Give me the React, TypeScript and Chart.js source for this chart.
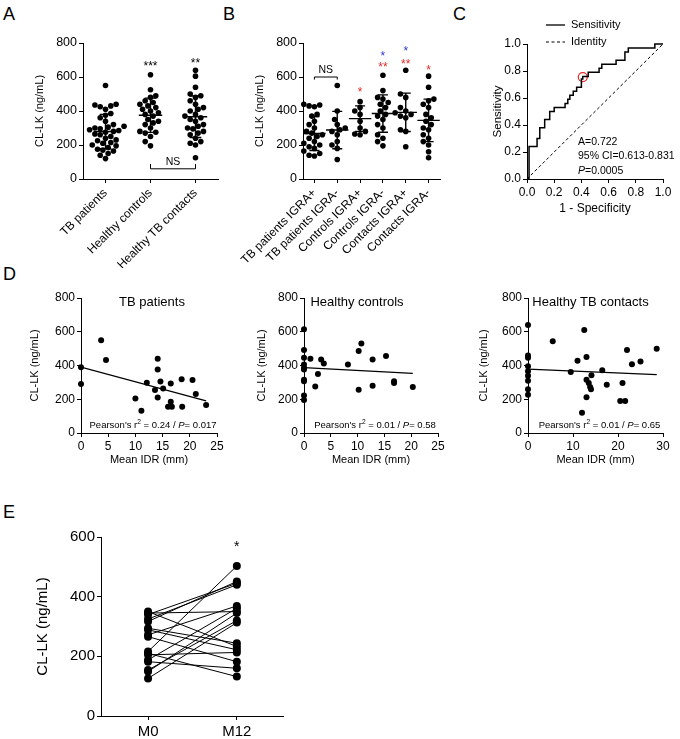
import React, { useEffect, useRef } from 'react';
import { Chart, registerables } from 'chart.js';

Chart.register(...registerables);

const FONT = '"Liberation Sans", Arial, Helvetica, sans-serif';
Chart.defaults.font.family = FONT;
Chart.defaults.color = '#000';

// ---------------- Panel A data ----------------
const groupsA = ['TB patients', 'Healthy controls', 'Healthy TB contacts'];
const tbPatientsA = [550, 440, 435, 430, 425, 410, 385, 375, 360, 340, 320, 310, 305, 300, 295, 290, 285, 280, 275, 265, 260, 250, 240, 230, 225, 215, 210, 200, 195, 185, 175, 170, 165, 150, 140, 120];
const healthyControlsA = [613, 525, 490, 480, 460, 450, 440, 430, 420, 410, 400, 390, 380, 370, 350, 340, 330, 320, 300, 280, 275, 270, 250, 220, 195];
const healthyContactsA = [640, 605, 540, 500, 490, 480, 460, 440, 420, 410, 400, 380, 370, 360, 350, 340, 320, 310, 300, 295, 280, 270, 260, 240, 220, 210, 200, 125];
const meanA = [279, 375, 366];
const sdA = [101, 101, 122];
const starsA = ['', '***', '**'];
const starsYA = [0, 680, 700];
const nsPairA = [1, 2];
const nsBracketA = [60, 88]; // bracket level, arm end
const nsTextYA = 100;

// ---------------- Panel B data ----------------
const groupsB = ['TB patients IGRA+', 'TB patients IGRA-', 'Controls IGRA+', 'Controls IGRA-', 'Contacts IGRA+', 'Contacts IGRA-'];
const tbIgraPosB = [440, 435, 430, 425, 380, 370, 340, 320, 300, 280, 270, 260, 250, 240, 220, 210, 200, 190, 180, 165, 150, 140, 135];
const tbIgraNegB = [550, 400, 350, 320, 300, 290, 280, 260, 220, 200, 180, 115];
const ctrlIgraPosB = [455, 420, 400, 380, 340, 300, 280, 265, 260];
const ctrlIgraNegB = [610, 520, 480, 470, 450, 440, 420, 400, 380, 370, 350, 320, 300, 260, 240, 220, 195];
const contIgraPosB = [640, 500, 480, 420, 400, 390, 380, 370, 360, 290, 280, 190];
const contIgraNegB = [605, 540, 470, 460, 440, 420, 380, 360, 340, 320, 300, 290, 260, 240, 220, 200, 160, 125];
const meanB = [268, 288, 355, 385, 392, 345];
const sdB = [100, 110, 75, 110, 113, 125];
const redStarsB = ['', '', '*', '**', '**', '*'];
const redStarYB = [0, 0, 529, 676, 696, 656];
const blueStarsB = ['', '', '', '*', '*', ''];
const blueStarYB = [0, 0, 0, 741, 770, 0];
const nsPairB = [0, 1];
const nsBracketB = [600, 585];
const nsTextYB = 643;

// ---------------- Panel C data ----------------
const rocFpr = [0, 0.015, 0.015, 0.074, 0.074, 0.094, 0.094, 0.13, 0.13, 0.167, 0.167, 0.2, 0.2, 0.28, 0.28, 0.3, 0.3, 0.315, 0.315, 0.34, 0.34, 0.365, 0.365, 0.4, 0.4, 0.41, 0.41, 0.45, 0.45, 0.53, 0.53, 0.55, 0.55, 0.655, 0.655, 0.72, 0.72, 0.745, 0.745, 0.94, 0.94, 1.0];
const rocTpr = [0, 0, 0.24, 0.24, 0.3, 0.3, 0.38, 0.38, 0.44, 0.44, 0.5, 0.5, 0.53, 0.53, 0.56, 0.56, 0.59, 0.59, 0.62, 0.62, 0.65, 0.65, 0.68, 0.68, 0.74, 0.74, 0.76, 0.76, 0.79, 0.79, 0.82, 0.82, 0.85, 0.85, 0.88, 0.88, 0.94, 0.94, 0.97, 0.97, 1.0, 1.0];
const identityLine = [0, 1];
const cutoffPoint = [0.41, 0.755];

// ---------------- Panel D data ----------------
const d1Idr = [0, 0, 3.7, 4.6, 10, 11.1, 12.1, 13.6, 14.1, 14.1, 14.1, 14.6, 15.1, 16, 16.7, 16.5, 16.5, 18.5, 18.6, 20.5, 21.1, 23];
const d1Clk = [390, 291, 550, 432, 205, 132, 298, 255, 440, 377, 211, 305, 263, 156, 156, 185, 294, 318, 156, 314, 231, 166];
const d1FitX = [0, 23];
const d1FitY = [390, 191];

const d2Idr = [0, 0, 0, 0, 0, 0, 0, 0, 0, 0, 1.2, 2.1, 2.6, 3.2, 3.7, 8.2, 10.2, 10.2, 10.7, 12.8, 12.8, 15.3, 16.8, 16.8, 20.3];
const d2Clk = [615, 492, 446, 406, 386, 376, 316, 306, 222, 196, 440, 276, 350, 436, 412, 406, 486, 256, 530, 436, 280, 456, 306, 296, 272];
const d2FitX = [0, 20.3];
const d2FitY = [388, 353];

const d3Idr = [0, 0, 0, 0, 0, 0, 0, 0, 0, 5.5, 9.5, 11, 12.5, 13, 13, 13, 12, 13.5, 13.8, 14, 14.1, 16.5, 17.5, 21, 20.5, 21.6, 22, 23.1, 25, 28.6];
const d3Clk = [640, 460, 446, 396, 366, 340, 310, 260, 226, 544, 362, 428, 610, 450, 316, 212, 120, 296, 272, 260, 342, 372, 286, 296, 190, 190, 492, 408, 424, 500];
const d3FitX = [0, 28.6];
const d3FitY = [378, 346];

// ---------------- Panel E data ----------------
const timepointsE = ['M0', 'M12'];
const m0E = [350, 345, 340, 325, 317, 294, 289, 272, 266, 216, 210, 205, 188, 182, 154, 149, 126];
const m12E = [233, 350, 445, 440, 451, 244, 222, 369, 182, 503, 132, 213, 361, 160, 320, 345, 313];
const starE = '*';
const starYE = 580;

// ---------------- helpers ----------------
const GRID = { display: true, drawOnChartArea: false, drawTicks: true, tickLength: 4, color: '#000', lineWidth: 1 };
const BORDER = { display: true, color: '#000', width: 1 };
const RED = '#e12a2a';
const BLUE = '#2b35d8';

type Box = { left: number; top: number; width: number; height: number };
type Area = { left: number; top: number; right: number; bottom: number };

function fitW(w: number) {
  return (s: any) => { s.width = w; s.paddingTop = 0; s.paddingBottom = 0; s.paddingLeft = 0; s.paddingRight = 0; };
}
function fitH(h: number) {
  return (s: any) => { s.height = h; s.paddingTop = 0; s.paddingBottom = 0; s.paddingLeft = 0; s.paddingRight = 0; };
}

function base(box: Box, area: Area) {
  return {
    responsive: false,
    animation: false,
    events: [],
    layout: { padding: { left: 0, bottom: 0, top: area.top - box.top, right: box.left + box.width - area.right } },
    plugins: { legend: { display: false }, tooltip: { enabled: false }, title: { display: false } },
  };
}

function yAxis(box: Box, area: Area, o: any) {
  const lh = o.titleSize * 1.2;
  const ticks: any = { stepSize: o.step, font: { size: o.tickSize }, color: '#000', padding: 2 };
  if (o.fmt) ticks.callback = o.fmt;
  return {
    type: 'linear', min: o.min, max: o.max,
    ticks,
    grid: GRID, border: BORDER,
    title: { display: true, text: o.title, color: '#000', font: { size: o.titleSize }, padding: { top: o.titleX - box.left - lh / 2, bottom: 0 } },
    afterFit: fitW(area.left - box.left),
  };
}

function xLinear(box: Box, area: Area, o: any) {
  const lh = (o.titleSize || 12) * 1.2;
  const ticks: any = { stepSize: o.step, font: { size: o.tickSize }, color: '#000', padding: o.pad ?? 2, autoSkip: false };
  if (o.fmt) ticks.callback = o.fmt;
  const ax: any = {
    type: 'linear', min: o.min, max: o.max,
    ticks,
    grid: GRID, border: BORDER,
    afterFit: fitH(box.top + box.height - area.bottom),
  };
  if (o.title) {
    ax.title = { display: true, text: o.title, color: '#000', font: { size: o.titleSize }, padding: { top: 0, bottom: box.top + box.height - o.titleY - lh / 2 } };
  }
  if (o.tickValues) {
    ax.afterBuildTicks = (s: any) => { s.ticks = o.tickValues.map((v: number) => ({ value: v })); };
  }
  return ax;
}

function swarm(values: number[], center: number, pxX: number, pxY: number, diam: number) {
  const order = values.map((_, i) => i).sort((a, b) => values[a] - values[b]);
  const placed: { x: number; y: number }[] = [];
  const out: any[] = new Array(values.length);
  for (const i of order) {
    const py = values[i] * pxY;
    let best = 0;
    for (let k = 0; k < 200; k++) {
      const off = (k % 2 === 0 ? 1 : -1) * Math.ceil(k / 2) * (diam * 0.5);
      if (placed.every((p) => Math.hypot(p.x - off, p.y - py) >= diam)) { best = off; break; }
    }
    placed.push({ x: best, y: py });
    out[i] = { x: center + best / pxX, y: values[i] };
  }
  return out;
}

const GAP = { x: null, y: null };
function meanSdPoints(means: number[], sds: number[], half: number, cap: number) {
  const pts: any[] = [];
  means.forEach((m, i) => {
    const hi = m + sds[i];
    const lo = m - sds[i];
    pts.push({ x: i - half, y: m }, { x: i + half, y: m }, GAP);
    pts.push({ x: i, y: lo }, { x: i, y: hi }, GAP);
    pts.push({ x: i - cap, y: hi }, { x: i + cap, y: hi }, GAP);
    pts.push({ x: i - cap, y: lo }, { x: i + cap, y: lo }, GAP);
  });
  return pts;
}

function drawStar(ctx: any, s: string, x: number, y: number, size: number, color: string) {
  ctx.save();
  ctx.font = `${size}px ${FONT}`;
  ctx.fillStyle = color;
  ctx.textAlign = 'center';
  ctx.textBaseline = 'alphabetic';
  ctx.fillText(s, x, y + size * 0.57);
  ctx.restore();
}

function drawText(ctx: any, s: string, x: number, y: number, size: number, align = 'center', style = '') {
  ctx.save();
  ctx.font = `${style ? style + ' ' : ''}${size}px ${FONT}`;
  ctx.fillStyle = '#000';
  ctx.textAlign = align;
  ctx.textBaseline = 'middle';
  ctx.fillText(s, x, y);
  ctx.restore();
}

type Run = { t: string; s?: string };
function drawRuns(ctx: any, runs: Run[], x: number, y: number, size: number, align: string) {
  ctx.save();
  ctx.textBaseline = 'middle';
  ctx.textAlign = 'left';
  ctx.fillStyle = '#000';
  const f = (r: Run) => (r.s === 'i' ? `italic ${size}px ${FONT}` : r.s === 'sup' ? `${size * 0.7}px ${FONT}` : `${size}px ${FONT}`);
  let total = 0;
  for (const r of runs) { ctx.font = f(r); total += ctx.measureText(r.t).width; }
  let cx = align === 'center' ? x - total / 2 : x;
  for (const r of runs) {
    ctx.font = f(r);
    ctx.fillText(r.t, cx, r.s === 'sup' ? y - size * 0.35 : y);
    cx += ctx.measureText(r.t).width;
  }
  ctx.restore();
}

function bracket(ctx: any, x1: number, x2: number, yb: number, ya: number) {
  ctx.save();
  ctx.strokeStyle = '#000';
  ctx.lineWidth = 1;
  ctx.beginPath();
  ctx.moveTo(x1, ya);
  ctx.lineTo(x1, yb);
  ctx.lineTo(x2, yb);
  ctx.lineTo(x2, ya);
  ctx.stroke();
  ctx.restore();
}

// ---------------- group (scatter dot) charts ----------------
function groupChart(box: Box, area: Area, groups: string[], series: number[][], means: number[], sds: number[], half: number, cap: number, titleX: number, labelSize: number, annot: (c: any) => void) {
  const xPx = (area.right - area.left) / groups.length;
  const yPx = (area.bottom - area.top) / 800;
  const datasets: any[] = series.map((vals, i) => ({
    type: 'scatter',
    data: swarm(vals, i, xPx, yPx, 5.3),
    pointRadius: 2.8,
    pointBackgroundColor: '#000',
    pointBorderWidth: 0,
    borderColor: '#000',
    clip: false,
  }));
  datasets.push({
    type: 'line', data: meanSdPoints(means, sds, half, cap), borderColor: '#000', borderWidth: 1.4,
    pointRadius: 0, spanGaps: false, fill: false, clip: false,
  });
  return {
    type: 'scatter',
    data: { datasets },
    options: {
      ...base(box, area),
      scales: {
        x: {
          type: 'linear', min: -0.5, max: groups.length - 0.5,
          afterBuildTicks: (s: any) => { s.ticks = groups.map((_, i) => ({ value: i })); },
          ticks: { autoSkip: false, minRotation: 45, maxRotation: 45, font: { size: labelSize }, color: '#000', padding: 3, callback: (v: any) => groups[v] },
          grid: GRID, border: BORDER,
          afterFit: fitH(box.top + box.height - area.bottom),
        },
        y: yAxis(box, area, { min: 0, max: 800, step: 200, tickSize: 12.5, title: 'CL-LK (ng/mL)', titleSize: 11, titleX }),
      },
    },
    plugins: [{ id: 'annot', afterDatasetsDraw: annot }],
  };
}

const BOX_A: Box = { left: 20, top: 0, width: 205, height: 268 };
const AREA_A: Area = { left: 83, top: 43, right: 218, bottom: 179 };
const configA = () => groupChart(BOX_A, AREA_A, groupsA, [tbPatientsA, healthyControlsA, healthyContactsA], meanA, sdA, 0.26, 0.13, 40, 12, (chart: any) => {
  const { ctx } = chart;
  const x = chart.scales.x, y = chart.scales.y;
  starsA.forEach((s, i) => { if (s) drawStar(ctx, s, x.getPixelForValue(i), y.getPixelForValue(starsYA[i]), 12, '#000'); });
  const x1 = x.getPixelForValue(nsPairA[0]), x2 = x.getPixelForValue(nsPairA[1]);
  bracket(ctx, x1, x2, y.getPixelForValue(nsBracketA[0]), y.getPixelForValue(nsBracketA[1]));
  drawText(ctx, 'NS', (x1 + x2) / 2, y.getPixelForValue(nsTextYA), 10.5);
});

const BOX_B: Box = { left: 222, top: 0, width: 225, height: 268 };
const AREA_B: Area = { left: 303, top: 43, right: 440, bottom: 179 };
const configB = () => groupChart(BOX_B, AREA_B, groupsB, [tbIgraPosB, tbIgraNegB, ctrlIgraPosB, ctrlIgraNegB, contIgraPosB, contIgraNegB], meanB, sdB, 0.49, 0.22, 260, 12, (chart: any) => {
  const { ctx } = chart;
  const x = chart.scales.x, y = chart.scales.y;
  redStarsB.forEach((s, i) => { if (s) drawStar(ctx, s, x.getPixelForValue(i), y.getPixelForValue(redStarYB[i]), 12, RED); });
  blueStarsB.forEach((s, i) => { if (s) drawStar(ctx, s, x.getPixelForValue(i), y.getPixelForValue(blueStarYB[i]), 12, BLUE); });
  const x1 = x.getPixelForValue(nsPairB[0]), x2 = x.getPixelForValue(nsPairB[1]);
  bracket(ctx, x1, x2, y.getPixelForValue(nsBracketB[0]), y.getPixelForValue(nsBracketB[1]));
  drawText(ctx, 'NS', (x1 + x2) / 2, y.getPixelForValue(nsTextYB), 10.5);
});

// ---------------- Panel C ----------------
const BOX_C: Box = { left: 470, top: 0, width: 210, height: 222 };
const AREA_C: Area = { left: 527, top: 44, right: 663, bottom: 179 };
const fmt1 = (v: any) => Number(v).toFixed(1);
const configC = () => ({
  type: 'scatter',
  data: {
    datasets: [
      { type: 'line', data: rocFpr.map((f, i) => ({ x: f, y: rocTpr[i] })), borderColor: '#000', borderWidth: 1.5, pointRadius: 0, fill: false, clip: false },
      { type: 'line', data: identityLine.map((v) => ({ x: v, y: v })), borderColor: '#000', borderWidth: 1, borderDash: [3, 2.5], pointRadius: 0, fill: false },
      { type: 'scatter', data: [{ x: cutoffPoint[0], y: cutoffPoint[1] }], pointRadius: 4.5, pointBackgroundColor: 'rgba(0,0,0,0)', pointBorderColor: RED, pointBorderWidth: 1.2, clip: false },
    ],
  },
  options: {
    ...base(BOX_C, AREA_C),
    scales: {
      x: xLinear(BOX_C, AREA_C, { min: 0, max: 1, step: 0.2, tickSize: 12, fmt: fmt1, title: '1 - Specificity', titleSize: 12, titleY: 209 }),
      y: yAxis(BOX_C, AREA_C, { min: 0, max: 1, step: 0.2, tickSize: 12, fmt: fmt1, title: 'Sensitivity', titleSize: 11.5, titleX: 498 }),
    },
  },
  plugins: [{
    id: 'rocAnnot',
    afterDatasetsDraw(chart: any) {
      const { ctx, chartArea: ca } = chart;
      ctx.save();
      ctx.strokeStyle = '#000';
      ctx.lineWidth = 1.3;
      ctx.beginPath(); ctx.moveTo(ca.left + 19, ca.top - 19); ctx.lineTo(ca.left + 38, ca.top - 19); ctx.stroke();
      ctx.lineWidth = 1;
      ctx.setLineDash([3, 2.5]);
      ctx.beginPath(); ctx.moveTo(ca.left + 19, ca.top - 2); ctx.lineTo(ca.left + 38, ca.top - 2); ctx.stroke();
      ctx.restore();
      drawText(ctx, 'Sensitivity', ca.left + 44, ca.top - 19, 11, 'left');
      drawText(ctx, 'Identity', ca.left + 44, ca.top - 2, 11, 'left');
      drawText(ctx, 'A=0.722', ca.left + 51, ca.bottom - 37, 10.5, 'left');
      drawText(ctx, '95% CI=0.613-0.831', ca.left + 51, ca.bottom - 22.5, 10.5, 'left');
      drawRuns(ctx, [{ t: 'P', s: 'i' }, { t: '=0.0005' }], ca.left + 51, ca.bottom - 8, 10.5, 'left');
    },
  }],
});

// ---------------- Panel D ----------------
function configD(box: Box, area: Area, idr: number[], clk: number[], fitX: number[], fitY: number[], xMax: number, xStep: number, title: string, titleDx: number, pearson: Run[], yTitleX: number) {
  return {
    type: 'scatter',
    data: {
      datasets: [
        { type: 'scatter', data: idr.map((v, i) => ({ x: v, y: clk[i] })), pointRadius: 3, pointBackgroundColor: '#000', pointBorderWidth: 0, clip: false },
        { type: 'line', data: fitX.map((v, i) => ({ x: v, y: fitY[i] })), borderColor: '#000', borderWidth: 1.3, pointRadius: 0, fill: false },
      ],
    },
    options: {
      ...base(box, area),
      scales: {
        x: xLinear(box, area, { min: 0, max: xMax, step: xStep, tickSize: 12, title: 'Mean IDR (mm)', titleSize: 11, titleY: 460 }),
        y: yAxis(box, area, { min: 0, max: 800, step: 200, tickSize: 12, title: 'CL-LK (ng/mL)', titleSize: 11, titleX: yTitleX }),
      },
    },
    plugins: [{
      id: 'dAnnot',
      afterDatasetsDraw(chart: any) {
        const { ctx, chartArea: ca } = chart;
        const cx = (ca.left + ca.right) / 2;
        drawText(ctx, title, cx + titleDx, ca.top + 4, 13);
        drawRuns(ctx, pearson, cx + 4, ca.bottom - 8, 9.5, 'center');
      },
    }],
  };
}

const BOX_D1: Box = { left: 22, top: 270, width: 205, height: 200 };
const AREA_D1: Area = { left: 81, top: 298, right: 217, bottom: 433 };
const BOX_D2: Box = { left: 245, top: 270, width: 205, height: 200 };
const AREA_D2: Area = { left: 304, top: 298, right: 438, bottom: 433 };
const BOX_D3: Box = { left: 468, top: 270, width: 210, height: 200 };
const AREA_D3: Area = { left: 528, top: 298, right: 663, bottom: 433 };

const configD1 = () => configD(BOX_D1, AREA_D1, d1Idr, d1Clk, d1FitX, d1FitY, 25, 5, 'TB patients', 3,
  [{ t: "Pearson's r" }, { t: '2', s: 'sup' }, { t: ' = 0.24 / ' }, { t: 'P', s: 'i' }, { t: '= 0.017' }], 35);
const configD2 = () => configD(BOX_D2, AREA_D2, d2Idr, d2Clk, d2FitX, d2FitY, 25, 5, 'Healthy controls', -14,
  [{ t: "Pearson's r" }, { t: '2', s: 'sup' }, { t: ' = 0.01 / ' }, { t: 'P', s: 'i' }, { t: '= 0.58' }], 262);
const configD3 = () => configD(BOX_D3, AREA_D3, d3Idr, d3Clk, d3FitX, d3FitY, 30, 10, 'Healthy TB contacts', -5,
  [{ t: "Pearson's r" }, { t: '2', s: 'sup' }, { t: ' = 0.01 / ' }, { t: 'P', s: 'i' }, { t: '= 0.65' }], 484);

// ---------------- Panel E ----------------
const BOX_E: Box = { left: 20, top: 490, width: 280, height: 249 };
const AREA_E: Area = { left: 101, top: 537, right: 283, bottom: 716 };
const configE = () => ({
  type: 'line',
  data: {
    datasets: m0E.map((v, i) => ({
      type: 'line',
      data: [{ x: 0, y: v }, { x: 1, y: m12E[i] }],
      borderColor: '#000', borderWidth: 1, pointRadius: 4, pointBackgroundColor: '#000', pointBorderWidth: 0, fill: false, clip: false,
    })),
  },
  options: {
    ...base(BOX_E, AREA_E),
    scales: {
      x: xLinear(BOX_E, AREA_E, { min: -0.53, max: 1.52, tickSize: 15, tickValues: [0, 1], fmt: (v: any) => timepointsE[v], pad: 3 }),
      y: yAxis(BOX_E, AREA_E, { min: 0, max: 600, step: 200, tickSize: 15, title: 'CL-LK (ng/mL)', titleSize: 15, titleX: 43 }),
    },
  },
  plugins: [{
    id: 'eAnnot',
    afterDatasetsDraw(chart: any) {
      const { ctx } = chart;
      drawStar(ctx, starE, chart.scales.x.getPixelForValue(1), chart.scales.y.getPixelForValue(starYE), 14, '#000');
    },
  }],
});

// ---------------- components ----------------
function ChartPanel({ box, config }: { box: Box; config: () => any }) {
  const ref = useRef<HTMLCanvasElement | null>(null);
  useEffect(() => {
    const chart = new Chart(ref.current as HTMLCanvasElement, config());
    return () => chart.destroy();
  }, []);
  return (
    <canvas
      ref={ref}
      width={box.width}
      height={box.height}
      style={{ position: 'absolute', left: box.left, top: box.top, width: box.width, height: box.height }}
    />
  );
}

const panelLetters = [
  { t: 'A', x: 3, y: 5 },
  { t: 'B', x: 223, y: 5 },
  { t: 'C', x: 453, y: 5 },
  { t: 'D', x: 3, y: 265 },
  { t: 'E', x: 3, y: 503 },
];

export default function App() {
  return (
    <div style={{ position: 'absolute', left: 0, top: 0, width: 680, height: 739, background: '#fff', overflow: 'hidden', fontFamily: FONT }}>
      {panelLetters.map((p) => (
        <div key={p.t} style={{ position: 'absolute', left: p.x, top: p.y, fontSize: 18, lineHeight: '18px', color: '#000' }}>{p.t}</div>
      ))}
      <ChartPanel box={BOX_A} config={configA} />
      <ChartPanel box={BOX_B} config={configB} />
      <ChartPanel box={BOX_C} config={configC} />
      <ChartPanel box={BOX_D1} config={configD1} />
      <ChartPanel box={BOX_D2} config={configD2} />
      <ChartPanel box={BOX_D3} config={configD3} />
      <ChartPanel box={BOX_E} config={configE} />
    </div>
  );
}
